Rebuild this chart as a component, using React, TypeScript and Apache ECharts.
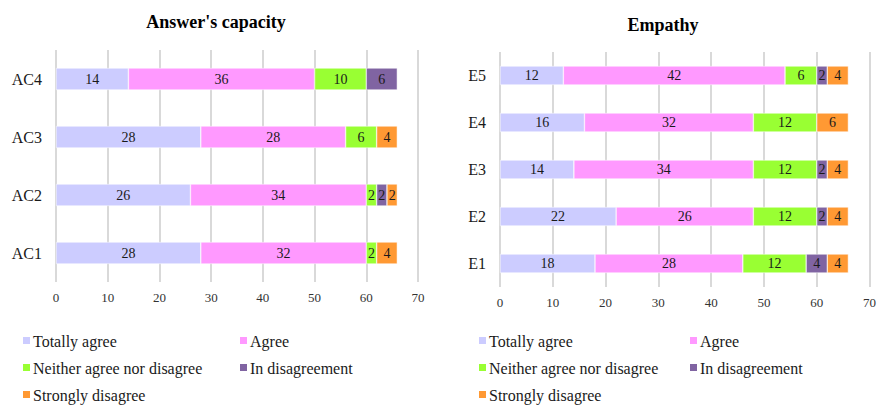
import React, { useEffect, useRef } from "react";
import * as echarts from "echarts";

const seriesNames = ["Totally agree", "Agree", "Neither agree nor disagree", "In disagreement", "Strongly disagree"];
const seriesColors = ["#CCCCFF", "#FF99FF", "#99FF33", "#8064A2", "#FF9933"];

const acCategories = ["AC1", "AC2", "AC3", "AC4"];
const acTotallyAgree = [28, 26, 28, 14];
const acAgree = [32, 34, 28, 36];
const acNeither = [2, 2, 6, 10];
const acDisagreement = [0, 2, 0, 6];
const acStrongly = [4, 2, 4, 0];

const eCategories = ["E1", "E2", "E3", "E4", "E5"];
const eTotallyAgree = [18, 22, 14, 16, 12];
const eAgree = [28, 26, 34, 32, 42];
const eNeither = [12, 12, 12, 12, 6];
const eDisagreement = [4, 2, 2, 0, 2];
const eStrongly = [4, 4, 4, 6, 4];

const xTicks = [0, 10, 20, 30, 40, 50, 60, 70];

const FONT = "'Liberation Serif', serif";

export default function App() {
  const ref = useRef<HTMLDivElement>(null);
  useEffect(() => {
    if (!ref.current) return;
    const chart = echarts.init(ref.current, null, { renderer: "svg" });
    const acData = [acTotallyAgree, acAgree, acNeither, acDisagreement, acStrongly];
    const eData = [eTotallyAgree, eAgree, eNeither, eDisagreement, eStrongly];
    const mkSeries = (data: number[][], idx: number, stack: string, bw: number) =>
      data.map((vals, i) => ({
        name: seriesNames[i],
        type: "bar",
        stack,
        xAxisIndex: idx,
        yAxisIndex: idx,
        barWidth: bw,
        data: vals.map((v) => (v === 0 ? null : v)),
        itemStyle: { color: seriesColors[i], borderColor: "#ffffff", borderWidth: 0.5 },
        label: {
          show: true,
          position: "inside",
          color: "#1a1a1a",
          fontFamily: FONT,
          fontSize: 14,
          formatter: (p: any) => (p.value ? String(p.value) : ""),
        },
      }));
    const xAxisCommon = (gridIndex: number) => ({
      type: "value",
      gridIndex,
      min: xTicks[0],
      max: xTicks[xTicks.length - 1],
      interval: 10,
      axisLine: { show: false },
      axisTick: { show: false },
      axisLabel: { color: "#333333", fontFamily: FONT, fontSize: 13, margin: 9 },
      splitLine: { show: true, lineStyle: { color: "#D9D9D9", width: 2 } },
    });
    const yAxisCommon = (gridIndex: number, data: string[]) => ({
      type: "category",
      gridIndex,
      data,
      axisLine: { show: false },
      axisTick: { show: false },
      axisLabel: { color: "#1a1a1a", fontFamily: FONT, fontSize: 16, margin: 14 },
    });
    const legendGraphics = (side: number) => {
      const c1 = side === 0 ? 23 : 479;
      const c2 = side === 0 ? 240 : 690;
      const items: [number, number, number][] = [
        [0, c1, 341],
        [1, c2, 341],
        [2, c1, 368],
        [3, c2, 368],
        [4, c1, 395],
      ];
      const out: any[] = [];
      items.forEach(([i, x, y]) => {
        out.push({
          type: "rect",
          shape: { x, y: y - 4, width: 7, height: 7 },
          style: { fill: seriesColors[i] },
          silent: true,
        });
        out.push({
          type: "text",
          x: x + 10,
          y,
          style: {
            text: seriesNames[i],
            fill: "#1a1a1a",
            font: "16px 'Liberation Serif', serif",
            textVerticalAlign: "middle",
            verticalAlign: "middle",
          },
          silent: true,
        });
      });
      return out;
    };
    chart.setOption({
      animation: false,
      backgroundColor: "#ffffff",
      textStyle: { fontFamily: FONT },
      title: [
        {
          text: "Answer's capacity",
          left: 211,
          top: 8,
          textAlign: "center",
          textStyle: { fontFamily: FONT, fontWeight: "bold", fontSize: 18, color: "#000" },
        },
        {
          text: "Empathy",
          left: 658,
          top: 11,
          textAlign: "center",
          textStyle: { fontFamily: FONT, fontWeight: "bold", fontSize: 18, color: "#000" },
        },
      ],
      graphic: [...legendGraphics(0), ...legendGraphics(1)],
      grid: [
        { left: 56, top: 50, width: 362, height: 232 },
        { left: 500, top: 52, width: 372, height: 235 },
      ],
      xAxis: [xAxisCommon(0), xAxisCommon(1)],
      yAxis: [yAxisCommon(0, acCategories), yAxisCommon(1, eCategories)],
      series: [...mkSeries(acData, 0, "ac", 22), ...mkSeries(eData, 1, "e", 19)],
    } as any);
    return () => chart.dispose();
  }, []);
  return <div ref={ref} style={{ width: 879, height: 406, position: "absolute", left: 0, top: 0 }} />;
}
